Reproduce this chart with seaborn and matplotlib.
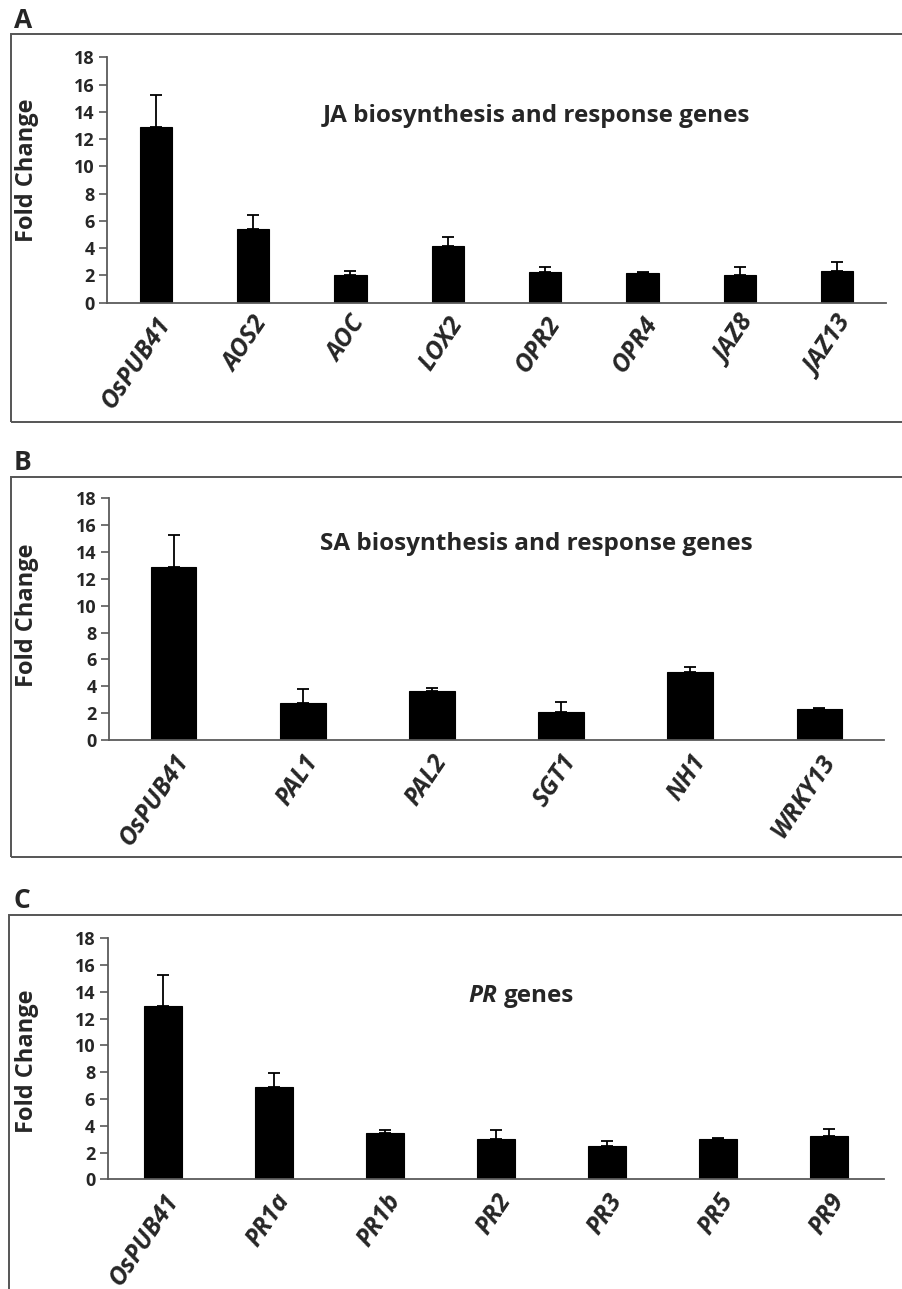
import numpy as np
import pandas as pd
import matplotlib
matplotlib.use("Agg")
import matplotlib.pyplot as plt
import seaborn as sns
from matplotlib.patches import Rectangle

sns.set_theme(style="white")
plt.rcParams['font.family'] = ['Open Sans', 'DejaVu Sans']

# ---------------- data ----------------
genes_a = ["OsPUB41", "AOS2", "AOC", "LOX2", "OPR2", "OPR4", "JAZ8", "JAZ13"]
fold_a = [12.87, 5.38, 2.03, 4.16, 2.27, 2.15, 2.05, 2.35]
err_a = [2.37, 1.05, 0.32, 0.68, 0.37, 0.12, 0.59, 0.61]

genes_b = ["OsPUB41", "PAL1", "PAL2", "SGT1", "NH1", "WRKY13"]
fold_b = [12.90, 2.78, 3.65, 2.06, 5.06, 2.28]
err_b = [2.39, 0.99, 0.25, 0.77, 0.35, 0.12]

genes_c = ["OsPUB41", "PR1a", "PR1b", "PR2", "PR3", "PR5", "PR9"]
fold_c = [12.94, 6.92, 3.48, 2.99, 2.51, 2.99, 3.23]
err_c = [2.32, 1.00, 0.22, 0.67, 0.33, 0.12, 0.55]

yticks = [0, 2, 4, 6, 8, 10, 12, 14, 16, 18]

W, H = 903, 1289
fig = plt.figure(figsize=(W / 100, H / 100), dpi=100)


def fx(x):
    return x / W


def fy(y):
    return 1 - y / H


AXIS_COL = "#5a5a5a"


def panel(genes, vals, errs, left, right, top, bottom, bw, ylab_y):
    ax = fig.add_axes([fx(left), fy(bottom), fx(right - left), (bottom - top) / H])
    df = pd.DataFrame({"gene": genes, "fold": vals})
    sns.barplot(data=df, x="gene", y="fold", color="black", width=bw,
                edgecolor="black", linewidth=0.8, saturation=1, ax=ax, errorbar=None)
    n = len(genes)
    pos = np.arange(n)
    ax.errorbar(pos, vals, yerr=[np.zeros(n), errs], fmt="none", ecolor="black",
                elinewidth=1.3, capsize=4.5, capthick=1.3)
    ax.set_xlim(-0.5, n - 0.5)
    ax.set_ylim(0, 18)
    ax.set_yticks(yticks)
    ax.set_yticklabels([str(t) for t in yticks], fontweight="bold", fontsize=13)
    ax.set_xticks(pos)
    ax.set_xticklabels(genes, rotation=56, ha="right", rotation_mode="anchor",
                       fontweight="bold", fontstyle="italic", fontsize=18)
    ax.set_xticks(np.arange(n + 1) - 0.5, minor=True)
    ax.tick_params(axis="x", which="major", length=0, pad=7)
    ax.tick_params(axis="x", which="minor", length=6, width=1.2, color=AXIS_COL, direction="out")
    ax.tick_params(axis="y", length=6, width=1.2, color=AXIS_COL, direction="out", pad=3,
                   left=True)
    for s in ["top", "right"]:
        ax.spines[s].set_visible(False)
    for s in ["left", "bottom"]:
        ax.spines[s].set_color(AXIS_COL)
        ax.spines[s].set_linewidth(1.3)
    ax.set_xlabel("")
    ax.set_ylabel("Fold Change", fontweight="bold", fontsize=17)
    ax.yaxis.set_label_coords((39 - left) / (right - left), ylab_y)
    ax.set_facecolor("none")
    return ax


def box(x0, y0, x1, y1):
    fig.add_artist(Rectangle((fx(x0), fy(y1)), fx(x1 - x0), (y1 - y0) / H,
                             transform=fig.transFigure, fill=False,
                             edgecolor="#555555", linewidth=1.4, zorder=0))


# Panel A
box(10.7, 34, 910, 422)
panel(genes_a, fold_a, err_a, 107, 886, 57.3, 302.7, 0.33, 0.54)
fig.text(fx(14), fy(20), "A", fontsize=19, fontweight="bold", ha="left", va="center")
fig.text(fx(536), fy(116), "JA biosynthesis and response genes", fontsize=17.5,
         fontweight="bold", ha="center", va="center")

# Panel B
box(10.7, 476.7, 910, 857)
panel(genes_b, fold_b, err_b, 109, 884, 498.3, 740, 0.354, 0.517)
fig.text(fx(14), fy(462), "B", fontsize=19, fontweight="bold", ha="left", va="center")
fig.text(fx(536), fy(544), "SA biosynthesis and response genes", fontsize=17.5,
         fontweight="bold", ha="center", va="center")

# Panel C
box(8.7, 915, 910, 1300)
panel(genes_c, fold_c, err_c, 107.7, 884.3, 938.3, 1179.3, 0.345, 0.489)
fig.text(fx(14), fy(900), "C", fontsize=19, fontweight="bold", ha="left", va="center")
fig.text(fx(497), fy(996), "PR", fontsize=17.5, fontweight="bold", fontstyle="italic",
         ha="right", va="center")
fig.text(fx(504), fy(996), "genes", fontsize=17.5, fontweight="bold", ha="left", va="center")

fig.savefig("out.png", dpi=100)
